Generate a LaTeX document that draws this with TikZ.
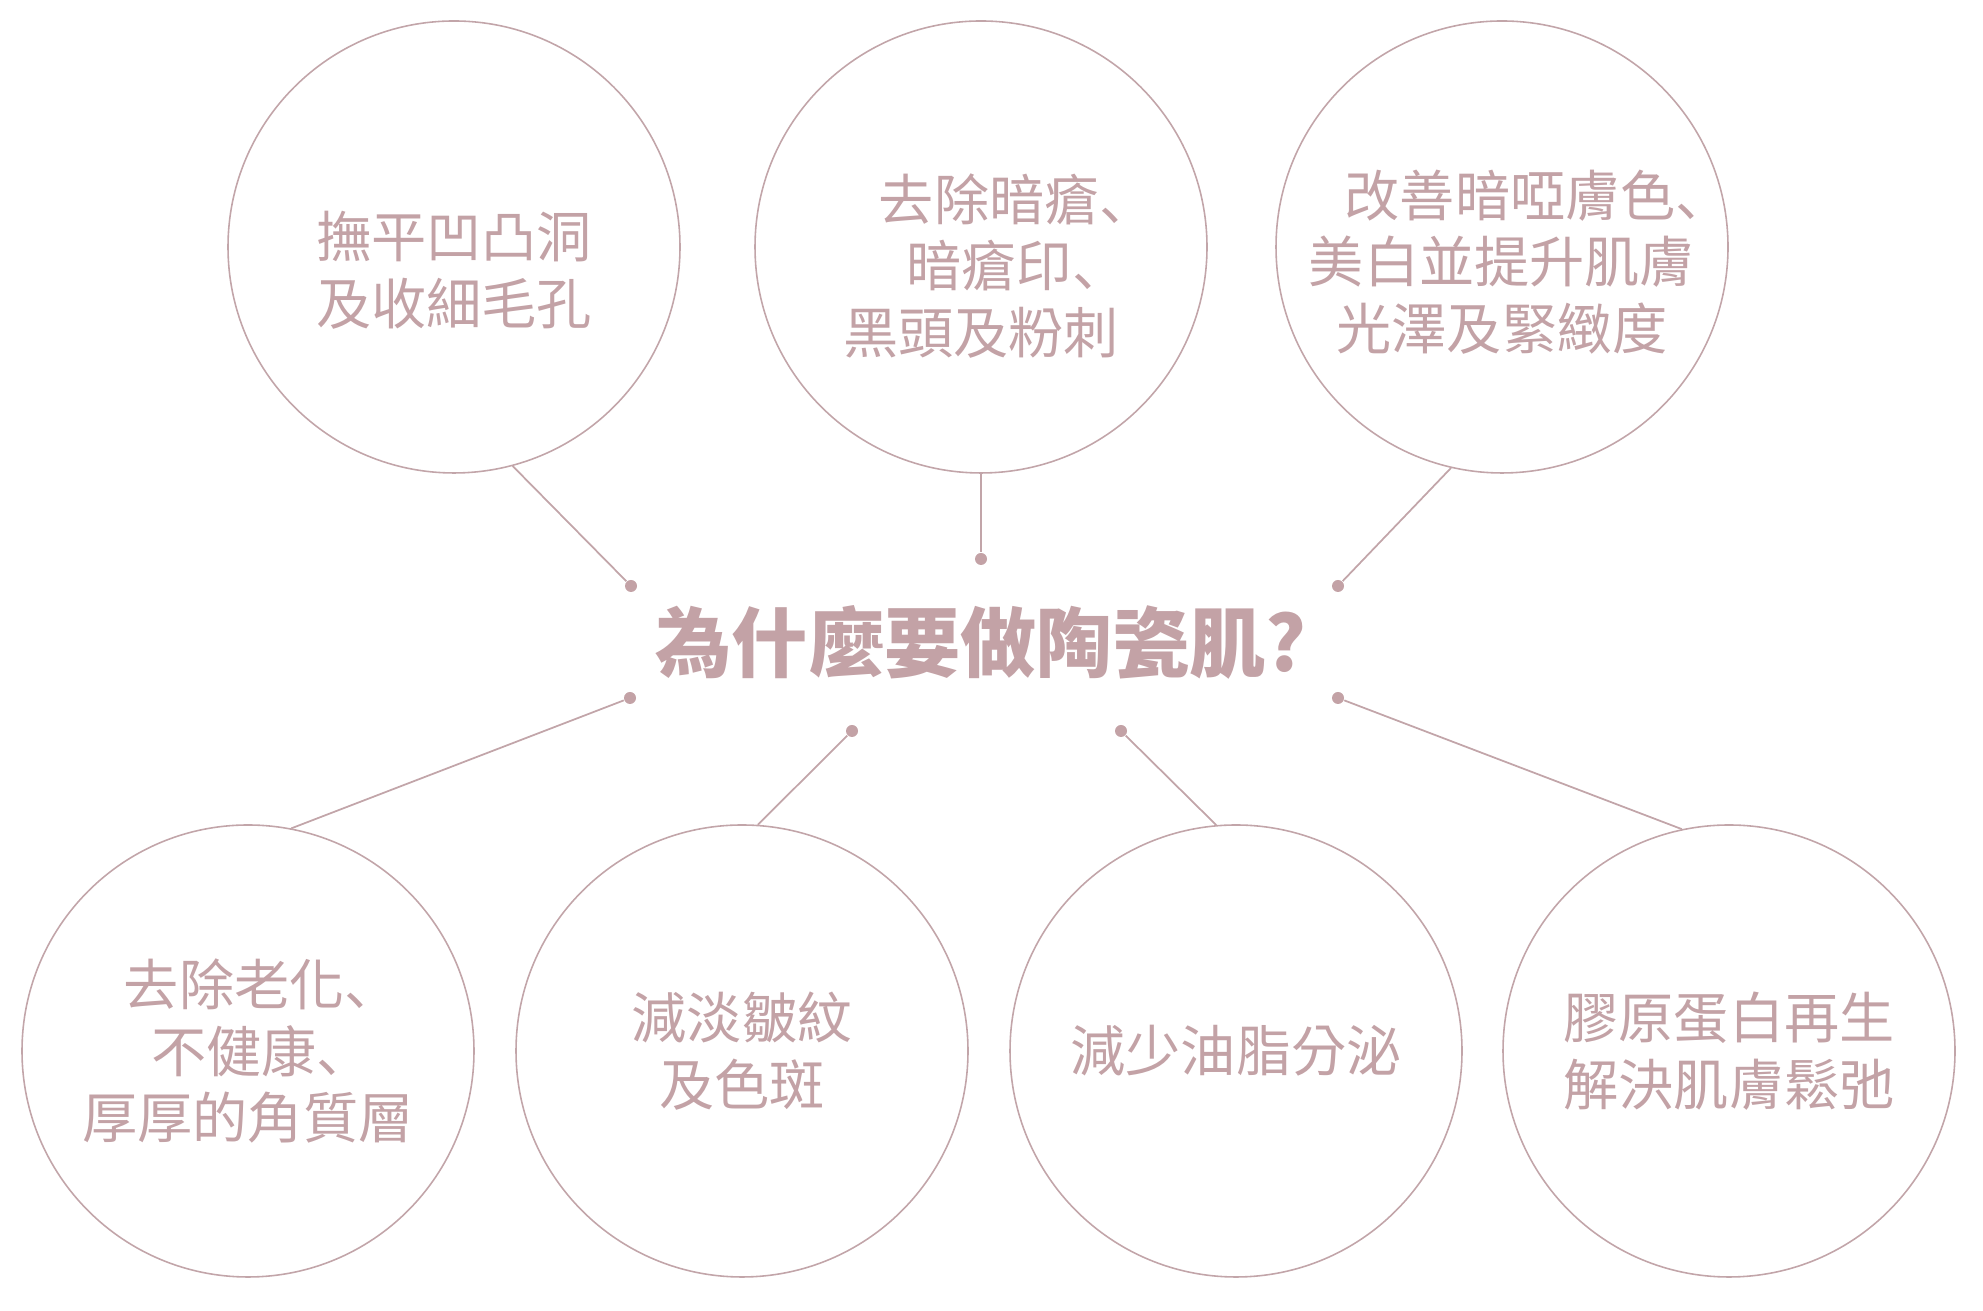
\documentclass[tikz,border=0pt]{standalone}
\usepackage{fontspec}
\usepackage{xcolor}
\usepackage{tikz}
\usetikzlibrary{positioning, calc}
\setmainfont{Noto Sans CJK TC}
\newfontfamily\jpfont{Noto Sans CJK JP}
\newcommand{\dun}{\makebox[0.5em][l]{\jpfont 、}}
\definecolor{rose}{HTML}{C3A2A6}
\definecolor{roseline}{HTML}{C2A5A9}

\begin{document}
\begin{tikzpicture}[
  font=\fontsize{15.7}{19}\selectfont,
  bubble/.style={circle, draw=roseline, line width=0.45pt, minimum size=4.52cm, inner sep=0pt},
  txt/.style={text=rose, align=center, inner sep=0pt},
  link/.style={draw=roseline, line width=0.5pt},
  dot/.style={circle, fill=rose, minimum size=0.12cm, inner sep=0pt},
]
  \useasboundingbox (0,0) rectangle (19.83,13.11);

  \node[txt, font=\fontsize{21.7}{25}\selectfont\bfseries] (title) at (9.81,6.69) {為什麼要做陶瓷肌?};

  \node[bubble] (c1) at (4.54,10.64) {};
  \node[bubble] (c2) at (9.81,10.64) {};
  \node[bubble] (c3) at (15.02,10.64) {};
  \node[bubble] (b1) at (2.48,2.60) {};
  \node[bubble] (b2) at (7.42,2.60) {};
  \node[bubble] (b3) at (12.36,2.60) {};
  \node[bubble] (b4) at (17.29,2.60) {};

  \node[txt] (tc1) at ([yshift=-0.23cm]c1.center) {撫平凹凸洞\\及收細毛孔};
  \node[txt] (tc2) at ([yshift=-0.19cm]c2.center) {\hspace*{0.8em}去除暗瘡\dun\\\hspace*{0.8em}暗瘡印\dun\\黑頭及粉刺};
  \node[txt] (tc3) at ([yshift=-0.15cm]c3.center) {\hspace*{0.8em}改善暗啞膚色\dun\\美白並提升肌膚\\光澤及緊緻度};
  \node[txt] (tb1) at (b1.center) {去除老化\dun\\不健康\dun\\厚厚的角質層};
  \node[txt] (tb2) at (b2.center) {減淡皺紋\\及色斑};
  \node[txt] (tb3) at (b3.center) {減少油脂分泌};
  \node[txt] (tb4) at (b4.center) {膠原蛋白再生\\解決肌膚鬆弛};

  \node[dot] (d1) at (6.31,7.25) {};
  \node[dot] (d2) at (9.81,7.52) {};
  \node[dot] (d3) at (13.38,7.25) {};
  \node[dot] (e1) at (6.30,6.13) {};
  \node[dot] (e2) at (8.52,5.80) {};
  \node[dot] (e3) at (11.21,5.80) {};
  \node[dot] (e4) at (13.38,6.13) {};

  \draw[link] (c1.-75) -- (d1);
  \draw[link] (c2.south) -- (d2);
  \draw[link] (c3.-103) -- (d3);
  \draw[link] (b1.79) -- (e1);
  \draw[link] (b2.86) -- (e2);
  \draw[link] (b3.95) -- (e3);
  \draw[link] (b4.102) -- (e4);
\end{tikzpicture}
\end{document}
